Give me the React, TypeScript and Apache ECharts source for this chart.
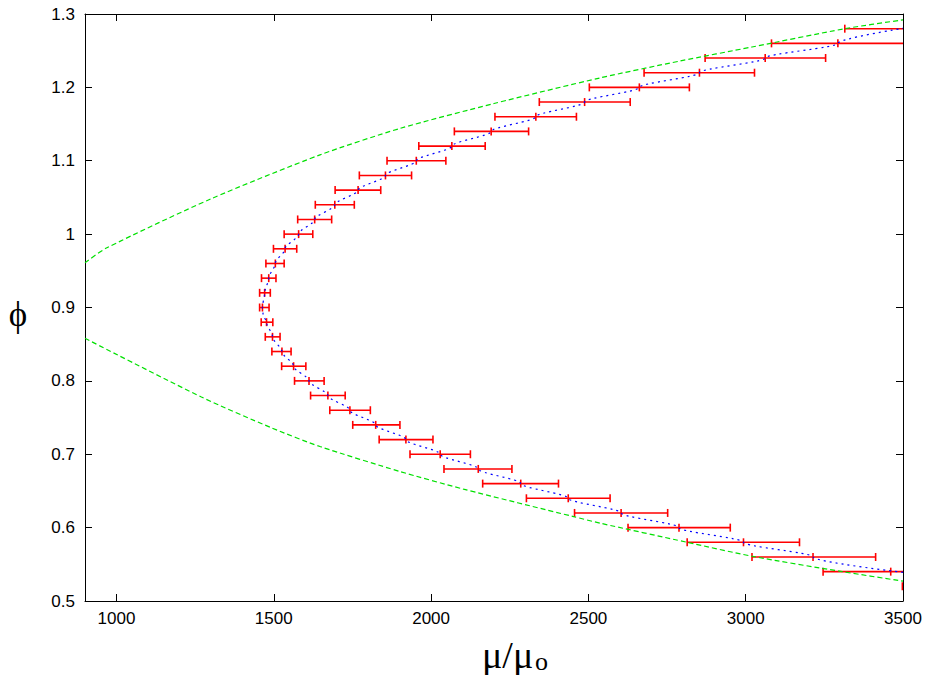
import React, { useEffect, useRef } from 'react';
import * as echarts from 'echarts';

// Error bar rows (phi level, centre and extent in mu/mu0)
const phiLevels = [0.52, 0.54, 0.56, 0.58, 0.6, 0.62, 0.64, 0.66, 0.68, 0.7, 0.72, 0.74, 0.76, 0.78, 0.8, 0.82, 0.84, 0.86, 0.88, 0.9, 0.92, 0.94, 0.96, 0.98, 1.0, 1.02, 1.04, 1.06, 1.08, 1.1, 1.12, 1.14, 1.16, 1.18, 1.2, 1.22, 1.24, 1.26, 1.28];
const muLow = [3498, 3246, 3020, 2814, 2626, 2456, 2303, 2164, 2041, 1933, 1835, 1751, 1678, 1617, 1566, 1525, 1494, 1473, 1460, 1455, 1455, 1461, 1475, 1499, 1533, 1576, 1632, 1695, 1772, 1860, 1961, 2074, 2203, 2344, 2503, 2677, 2871, 3082, 3315];
const muCenter = [3728, 3461, 3214, 2993, 2788, 2604, 2436, 2285, 2150, 2029, 1920, 1824, 1742, 1672, 1612, 1563, 1526, 1496, 1477, 1464, 1471, 1484, 1505, 1536, 1579, 1630, 1694, 1768, 1855, 1953, 2066, 2191, 2333, 2488, 2662, 2853, 3062, 3293, 3530];
const muHigh = [3958, 3676, 3413, 3171, 2951, 2752, 2569, 2405, 2257, 2125, 2006, 1901, 1807, 1727, 1660, 1602, 1555, 1520, 1497, 1485, 1489, 1507, 1533, 1573, 1624, 1684, 1756, 1840, 1938, 2047, 2172, 2310, 2462, 2633, 2821, 3028, 3254, 3504, 3745];

// Blue dotted fit curve
const fitMu = [3500, 3214, 2993, 2788, 2604, 2436, 2285, 2150, 2029, 1920, 1824, 1742, 1672, 1612, 1563, 1526, 1496, 1477, 1466, 1464, 1471, 1484, 1505, 1536, 1579, 1630, 1694, 1768, 1855, 1953, 2066, 2191, 2333, 2488, 2662, 2853, 3062, 3293, 3500];
const fitPhi = [0.539, 0.56, 0.58, 0.6, 0.62, 0.64, 0.66, 0.68, 0.7, 0.72, 0.74, 0.76, 0.78, 0.8, 0.82, 0.84, 0.86, 0.88, 0.89, 0.9, 0.92, 0.94, 0.96, 0.98, 1.0, 1.02, 1.04, 1.06, 1.08, 1.1, 1.12, 1.14, 1.16, 1.18, 1.2, 1.22, 1.24, 1.26, 1.2805];

// Green dashed bounding curves
const upperBoundMu = [900, 968, 1300, 1647, 1901, 2200, 2538, 2792, 3020, 3315, 3500];
const upperBoundPhi = [0.961, 0.981, 1.048, 1.108, 1.144, 1.178, 1.213, 1.236, 1.255, 1.28, 1.292];
const lowerBoundMu = [900, 1270, 1493, 1647, 1901, 2103, 2453, 2538, 2814, 3020, 3307, 3500];
const lowerBoundPhi = [0.858, 0.778, 0.736, 0.7105, 0.6765, 0.6525, 0.615, 0.606, 0.58, 0.561, 0.54, 0.527];

const xTicks = [1000, 1500, 2000, 2500, 3000, 3500];
const yTicks = [0.5, 0.6, 0.7, 0.8, 0.9, 1.0, 1.1, 1.2, 1.3];

export default function App() {
  const ref = useRef<HTMLDivElement>(null);
  useEffect(() => {
    if (!ref.current) return;
    const chart = echarts.init(ref.current, null, { renderer: 'svg' });
    const labelFont = { fontFamily: '"Liberation Sans", Arial, sans-serif', fontSize: 17, color: '#000' };
    const axisLine = { show: true, lineStyle: { color: '#000', width: 1 } };
    const tick = { show: true, inside: true, length: 7, lineStyle: { color: '#000', width: 1 } };
    const fmtY = (v: number) => String(Math.round(v * 10) / 10);
    const fmtX = (v: number) => String(Math.round(v));
    const serif = '"Liberation Serif", "DejaVu Serif", serif';
    chart.setOption({
      animation: false,
      backgroundColor: '#fff',
      grid: { left: 85, top: 14, width: 818, height: 587, containLabel: false },
      xAxis: [
        {
          type: 'value', min: 900, max: 3500, position: 'bottom',
          axisLine, splitLine: { show: false },
          axisTick: { ...tick, customValues: xTicks },
          axisLabel: { ...labelFont, margin: 9, customValues: xTicks, formatter: fmtX },
        },
        {
          type: 'value', min: 900, max: 3500, position: 'top',
          axisLine, splitLine: { show: false },
          axisTick: { ...tick, customValues: xTicks },
          axisLabel: { show: false },
        },
      ],
      yAxis: [
        {
          type: 'value', min: 0.5, max: 1.3, position: 'left',
          axisLine, splitLine: { show: false },
          axisTick: { ...tick, customValues: yTicks },
          axisLabel: { ...labelFont, margin: 10, customValues: yTicks, formatter: fmtY },
        },
        {
          type: 'value', min: 0.5, max: 1.3, position: 'right',
          axisLine, splitLine: { show: false },
          axisTick: { ...tick, customValues: yTicks },
          axisLabel: { show: false },
        },
      ],
      graphic: [
        {
          type: 'text', x: 18, y: 314,
          style: { text: 'ϕ', fontFamily: serif, fontSize: 35, lineHeight: 35, fill: '#000', textAlign: 'center', textVerticalAlign: 'middle', align: 'center', verticalAlign: 'middle' },
        },
        {
          type: 'text', x: 482, y: 655,
          style: { text: 'μ/μ', fontFamily: serif, fontSize: 38, lineHeight: 30, fill: '#000', textAlign: 'left', textVerticalAlign: 'middle', align: 'left', verticalAlign: 'middle' },
        },
        {
          type: 'text', x: 535, y: 661,
          style: { text: 'o', fontFamily: serif, fontSize: 26, lineHeight: 16, fill: '#000', textAlign: 'left', textVerticalAlign: 'middle', align: 'left', verticalAlign: 'middle' },
        },
      ],
      series: [
        {
          type: 'custom',
          clip: true,
          xAxisIndex: 0, yAxisIndex: 0,
          data: phiLevels.map((p, i) => [muCenter[i], p, muLow[i], muHigh[i]]),
          encode: { x: [0, 2, 3], y: 1 },
          renderItem: (params: any, api: any) => {
            const p = api.value(1);
            const c = api.coord([api.value(0), p]);
            const l = api.coord([api.value(2), p]);
            const r = api.coord([api.value(3), p]);
            const h = 4;
            const st = { stroke: '#ff0000', lineWidth: 1.6 };
            return {
              type: 'group',
              children: [
                { type: 'line', shape: { x1: l[0], y1: l[1], x2: r[0], y2: r[1] }, style: st },
                { type: 'line', shape: { x1: l[0], y1: l[1] - h, x2: l[0], y2: l[1] + h }, style: st },
                { type: 'line', shape: { x1: r[0], y1: r[1] - h, x2: r[0], y2: r[1] + h }, style: st },
                { type: 'line', shape: { x1: c[0], y1: c[1] - h, x2: c[0], y2: c[1] + h }, style: st },
              ],
            };
          },
        },
        {
          type: 'line', xAxisIndex: 0, yAxisIndex: 0, symbol: 'none', smooth: 0.3, smoothMonotone: 'y',
          data: fitMu.map((m, i) => [m, fitPhi[i]]),
          lineStyle: { color: '#0000ff', width: 1.2, type: [2, 4] },
        },
        {
          type: 'line', xAxisIndex: 0, yAxisIndex: 0, symbol: 'none', smooth: 0.25,
          data: upperBoundMu.map((m, i) => [m, upperBoundPhi[i]]),
          lineStyle: { color: '#00e000', width: 1.2, type: [5, 3] },
        },
        {
          type: 'line', xAxisIndex: 0, yAxisIndex: 0, symbol: 'none', smooth: 0.25,
          data: lowerBoundMu.map((m, i) => [m, lowerBoundPhi[i]]),
          lineStyle: { color: '#00e000', width: 1.2, type: [5, 3] },
        },
      ],
    });
    return () => chart.dispose();
  }, []);
  return <div ref={ref} style={{ position: 'fixed', left: 0, top: 0, width: 928, height: 675, background: '#fff' }} />;
}
